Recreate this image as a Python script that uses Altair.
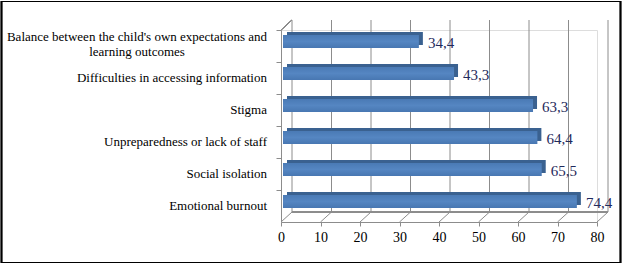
import altair as alt
import pandas as pd

categories = [
    "Balance between the child's own expectations and learning outcomes",
    "Difficulties in accessing information",
    "Stigma",
    "Unpreparedness or lack of staff",
    "Social isolation",
    "Emotional burnout",
]
display_labels = [
    "Balance between the child's own expectations and\nlearning outcomes",
    "Difficulties in accessing information",
    "Stigma",
    "Unpreparedness or lack of staff",
    "Social isolation",
    "Emotional burnout",
]
values = [34.4, 43.3, 63.3, 64.4, 65.5, 74.4]
value_labels = ["34,4", "43,3", "63,3", "64,4", "65,5", "74,4"]
x_ticks = [0, 10, 20, 30, 40, 50, 60, 70, 80]

df = pd.DataFrame({"cat": categories, "label": display_labels,
                   "value": values, "vlabel": value_labels})
ticks_df = pd.DataFrame({"t": x_ticks})

W, H = 316, 192
DX, DY = 11, -10
GRID = "#8c8c8c"
FONT = "Liberation Serif"

xs = alt.Scale(domain=[0, 80], nice=False, zero=True)
ys = alt.Scale(domain=categories, paddingInner=0, paddingOuter=0)

x_axis = alt.Axis(values=x_ticks, title=None, grid=False, domainColor=GRID,
                  tickColor=GRID, tickSize=4, labelFont=FONT, labelFontSize=14,
                  labelColor="#000000", labelPadding=4, labelFlush=False)
y_axis = alt.Axis(title=None, labels=False, domainColor=GRID, tickColor=GRID,
                  tickSize=5, bandPosition=0, grid=False)

base = alt.Chart(df)

# back wall gridlines
grid = alt.Chart(ticks_df).mark_rule(color=GRID, strokeWidth=1, xOffset=DX,
                                     yOffset=DY, y2Offset=DY).encode(
    x=alt.X("t:Q", scale=xs, axis=x_axis),
    y=alt.value(0), y2=alt.value(H))
# floor diagonals
diag = alt.Chart(ticks_df).mark_rule(color=GRID, strokeWidth=1,
                                     x2Offset=DX, y2Offset=DY).encode(
    x=alt.X("t:Q", scale=xs, axis=x_axis), x2="t:Q",
    y=alt.value(H), y2=alt.value(H))
# back floor edge
floor = alt.Chart(ticks_df).mark_rule(color=GRID, strokeWidth=1, xOffset=DX, x2Offset=DX,
                                      yOffset=DY, y2Offset=DY).encode(
    x=alt.datum(0, scale=xs, axis=x_axis), x2=alt.datum(80),
    y=alt.value(H), y2=alt.value(H))
# top-left wall diagonal
wall = alt.Chart(ticks_df).mark_rule(color=GRID, strokeWidth=1,
                                     x2Offset=DX, y2Offset=DY).encode(
    x=alt.datum(0, scale=xs, axis=x_axis), x2=alt.datum(0),
    y=alt.value(0), y2=alt.value(0))

depth = base.mark_bar(color="#3a6190", xOffset=6, x2Offset=6, size=13, yOffset=-7.5).encode(
    x=alt.X("value:Q", scale=xs, axis=x_axis),
    y=alt.Y("cat:N", scale=ys, sort=categories, axis=y_axis))
front = base.mark_bar(
    color=alt.Gradient(gradient="linear", x1=0, x2=0, y1=0, y2=1,
                       stops=[alt.GradientStop(color="#4a7ab5", offset=0),
                              alt.GradientStop(color="#5586c2", offset=0.5),
                              alt.GradientStop(color="#4877b2", offset=1)]),
    xOffset=2, x2Offset=2, size=13, yOffset=-4.5).encode(
    x=alt.X("value:Q", scale=xs, axis=x_axis),
    y=alt.Y("cat:N", scale=ys, sort=categories, axis=y_axis))

vtext = base.mark_text(align="left", baseline="middle", dx=11, dy=-3, font=FONT,
                       fontSize=15, color="#1f2a5c").encode(
    x=alt.X("value:Q", scale=xs, axis=x_axis),
    y=alt.Y("cat:N", scale=ys, sort=categories, axis=y_axis),
    text="vlabel:N")

cat_right = base.transform_filter(alt.datum.cat != categories[0]).mark_text(
    align="right", baseline="middle", font=FONT, fontSize=13, color="#000000").encode(
    x=alt.value(-14), y=alt.Y("cat:N", scale=ys, sort=categories, axis=y_axis),
    text="label:N")
cat_center = base.transform_filter(alt.datum.cat == categories[0]).mark_text(
    align="center", baseline="middle", font=FONT, fontSize=13, color="#000000",
    lineBreak="\n", lineHeight=15, dy=-9).encode(
    x=alt.value(-144), y=alt.Y("cat:N", scale=ys, sort=categories, axis=y_axis),
    text="label:N")

frame = alt.Chart(ticks_df).mark_rect(fill=None, stroke="#000000", strokeWidth=1.2).encode(
    x=alt.value(-279.5), x2=alt.value(339.5), y=alt.value(-28.5), y2=alt.value(232.5))

chart = alt.layer(grid, diag, floor, wall, depth, front, vtext, cat_right, cat_center, frame).properties(
    width=W, height=H,
    autosize=alt.AutoSizeParams(type="none"),
    padding={"left": 281, "top": 30, "right": 26, "bottom": 44},
).configure_view(stroke=None).configure(background="#ffffff")

chart.save("out.html", embed_options={"renderer": "svg", "actions": False})
